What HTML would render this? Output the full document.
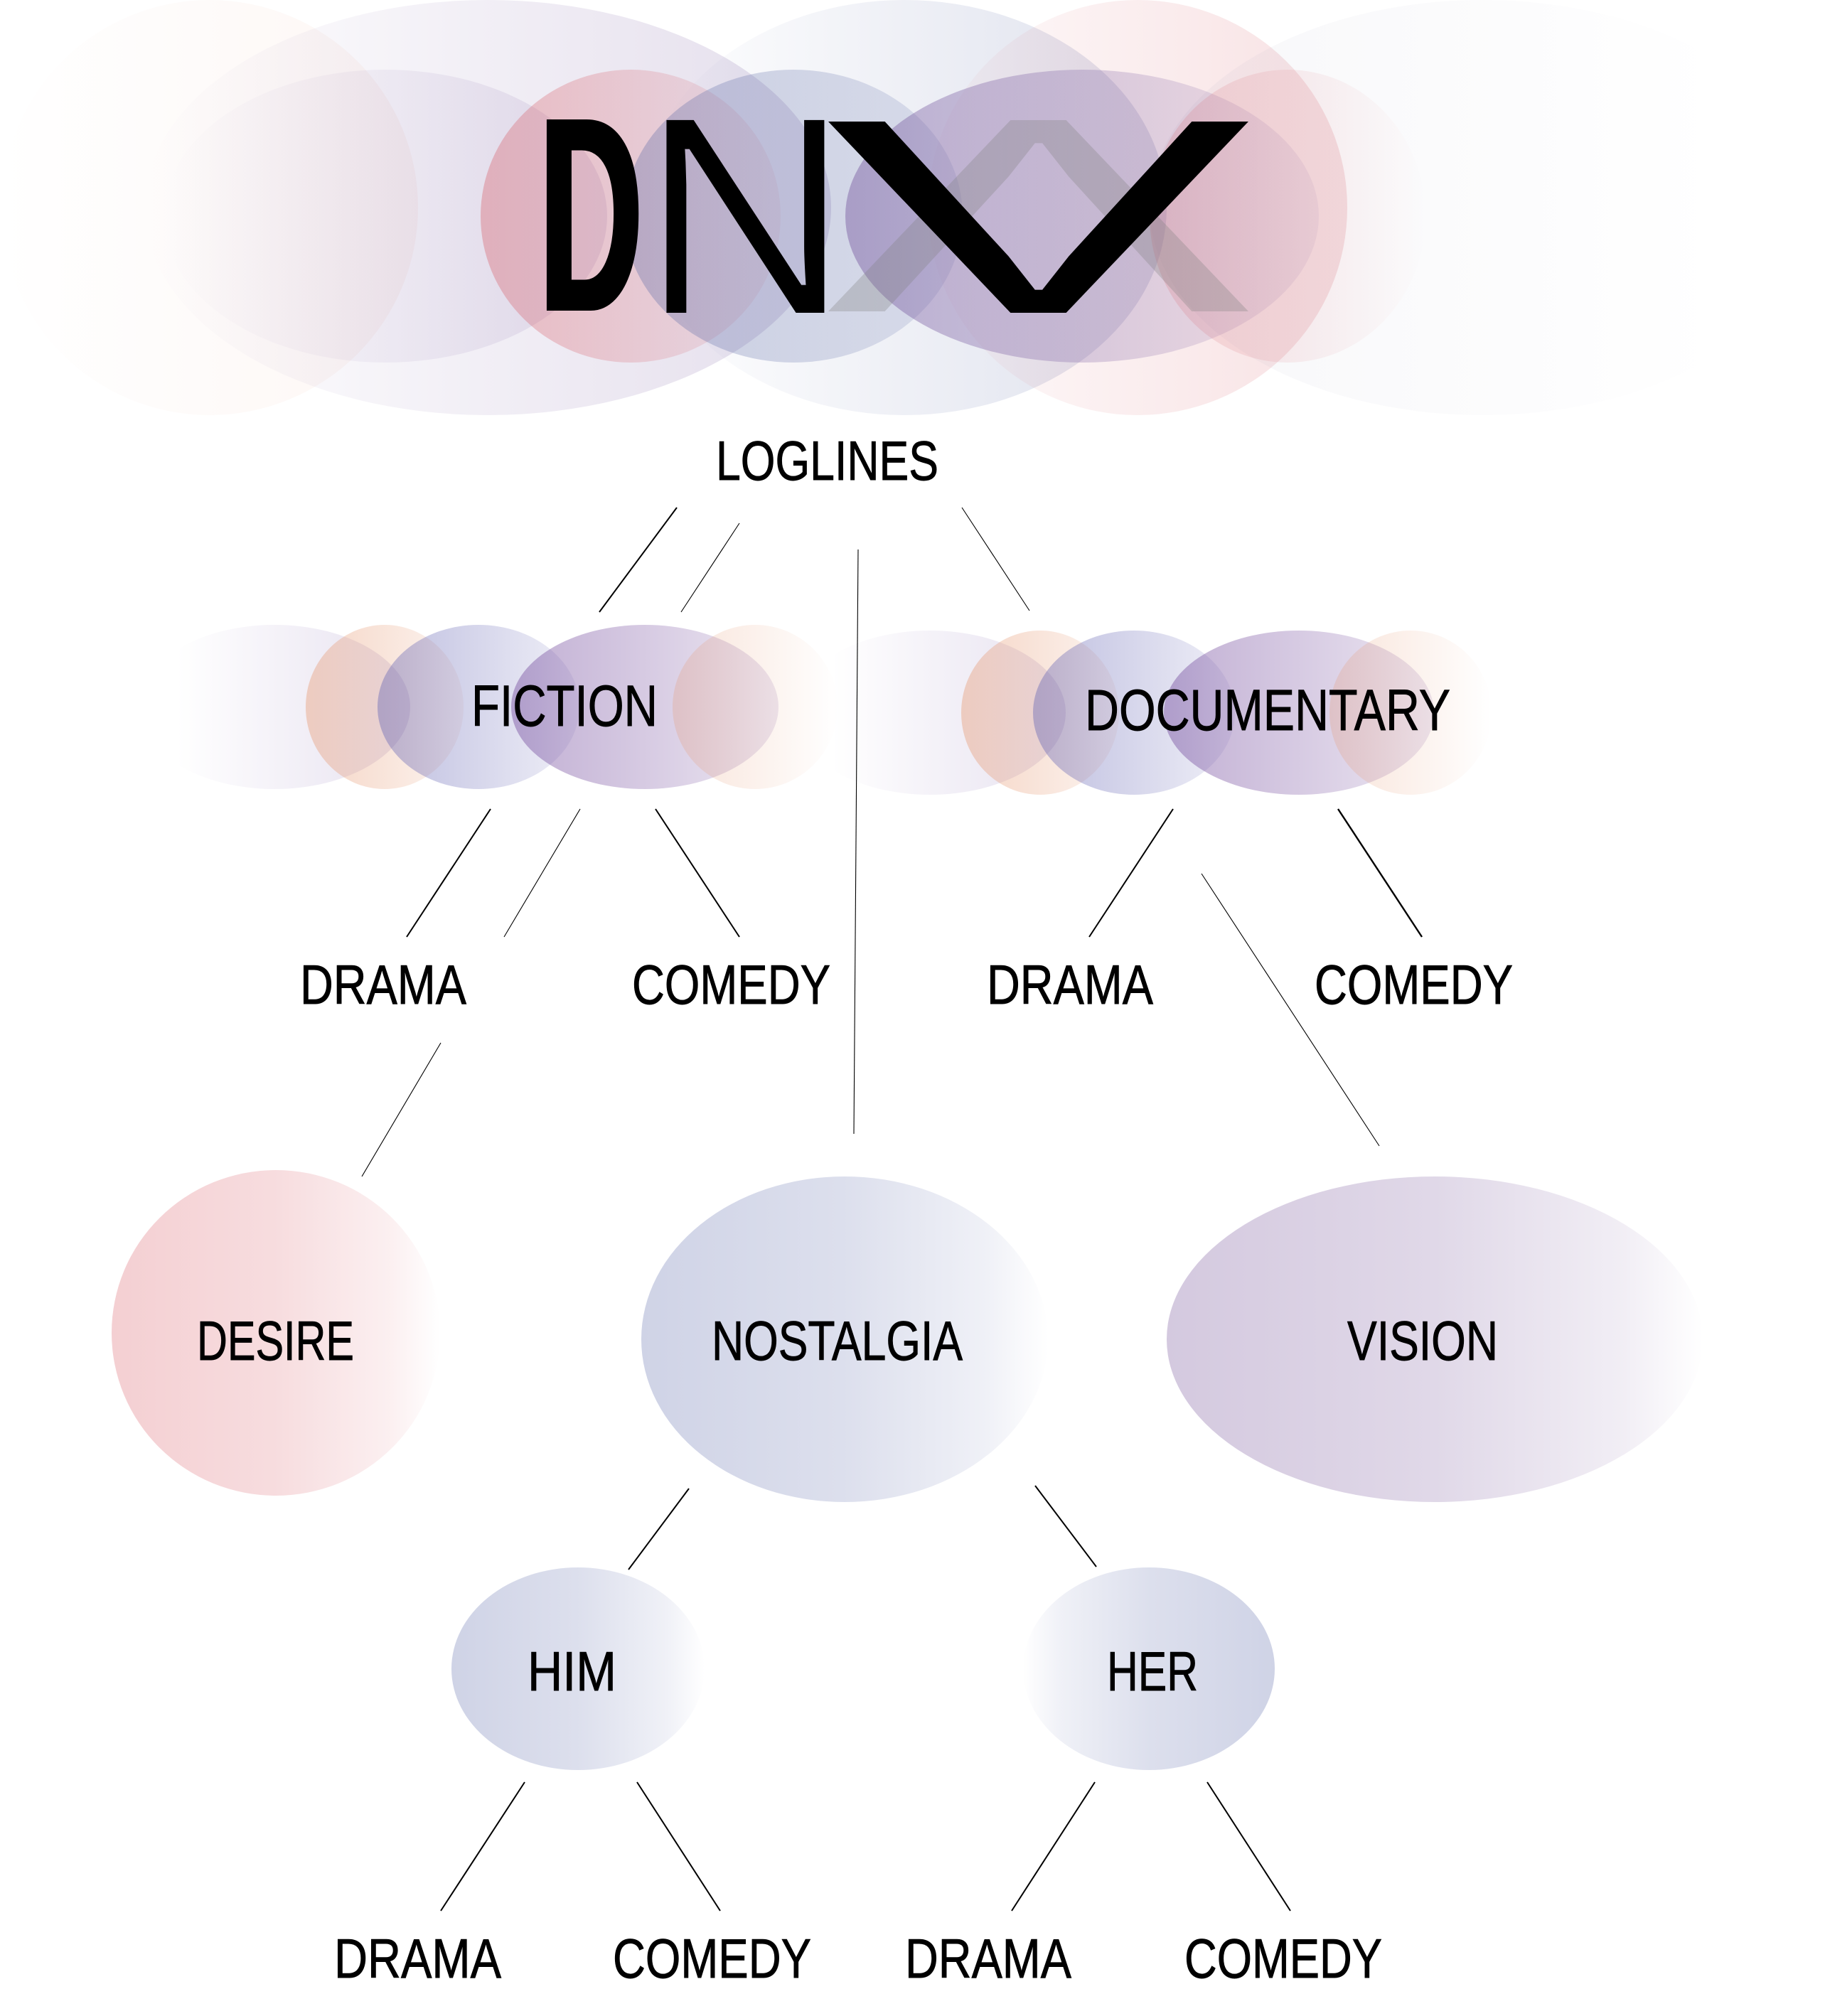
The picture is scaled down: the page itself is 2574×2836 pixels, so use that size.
<!DOCTYPE html>
<html><head><meta charset="utf-8"><title>DNV Loglines</title>
<style>html,body{margin:0;padding:0;background:#fff}svg{display:block}text{font-family:"Liberation Sans",sans-serif;fill:#000}</style></head>
<body>
<svg xmlns="http://www.w3.org/2000/svg" width="2574" height="2836" viewBox="0 0 2574 2836">
<defs>
<filter id="erV" filterUnits="userSpaceOnUse" x="1100" y="120" width="720" height="370" color-interpolation-filters="sRGB"><feMorphology operator="erode" radius="5 0"/></filter>
<filter id="erN" filterUnits="userSpaceOnUse" x="880" y="120" width="320" height="370" color-interpolation-filters="sRGB"><feMorphology operator="erode" radius="3 0"/></filter>
<filter id="diD" filterUnits="userSpaceOnUse" x="730" y="120" width="200" height="370" color-interpolation-filters="sRGB"><feMorphology operator="dilate" radius="3 0"/></filter>
<linearGradient id="e1"><stop offset="0" stop-color="rgb(240,190,170)" stop-opacity="0"/><stop offset="1" stop-color="rgb(240,190,170)" stop-opacity=".13"/></linearGradient>
<linearGradient id="e2"><stop offset="0" stop-color="rgb(120,90,160)" stop-opacity="0"/><stop offset="1" stop-color="rgb(120,90,160)" stop-opacity=".2"/></linearGradient>
<linearGradient id="e3"><stop offset="0" stop-color="rgb(90,105,165)" stop-opacity="0"/><stop offset="1" stop-color="rgb(90,105,165)" stop-opacity=".2"/></linearGradient>
<linearGradient id="e4"><stop offset="0" stop-color="rgb(214,90,100)" stop-opacity=".03"/><stop offset="1" stop-color="rgb(214,90,100)" stop-opacity=".18"/></linearGradient>
<linearGradient id="e5"><stop offset="0" stop-color="rgb(120,120,160)" stop-opacity=".06"/><stop offset=".85" stop-color="rgb(120,120,160)" stop-opacity="0"/></linearGradient>
<linearGradient id="i1"><stop offset="0" stop-color="rgb(120,90,160)" stop-opacity="0"/><stop offset="1" stop-color="rgb(120,90,160)" stop-opacity=".14"/></linearGradient>
<linearGradient id="i2"><stop offset="0" stop-color="rgb(214,90,100)" stop-opacity=".36"/><stop offset="1" stop-color="rgb(214,90,100)" stop-opacity=".08"/></linearGradient>
<linearGradient id="i3"><stop offset="0" stop-color="rgb(90,105,165)" stop-opacity=".34"/><stop offset="1" stop-color="rgb(90,105,165)" stop-opacity=".14"/></linearGradient>
<linearGradient id="i4"><stop offset="0" stop-color="rgb(120,90,160)" stop-opacity=".46"/><stop offset="1" stop-color="rgb(120,90,160)" stop-opacity=".08"/></linearGradient>
<linearGradient id="i5"><stop offset="0" stop-color="rgb(214,90,100)" stop-opacity=".2"/><stop offset="1" stop-color="rgb(214,90,100)" stop-opacity="0"/></linearGradient>
<linearGradient id="f1"><stop offset=".14" stop-color="rgb(120,90,170)" stop-opacity="0"/><stop offset="1" stop-color="rgb(120,90,170)" stop-opacity=".18"/></linearGradient>
<linearGradient id="f2"><stop offset="0" stop-color="rgb(230,150,110)" stop-opacity=".4"/><stop offset="1" stop-color="rgb(230,150,110)" stop-opacity=".1"/></linearGradient>
<linearGradient id="f3"><stop offset="0" stop-color="rgb(100,100,180)" stop-opacity=".42"/><stop offset="1" stop-color="rgb(100,100,180)" stop-opacity=".1"/></linearGradient>
<linearGradient id="f4"><stop offset="0" stop-color="rgb(120,80,160)" stop-opacity=".46"/><stop offset="1" stop-color="rgb(120,80,160)" stop-opacity=".14"/></linearGradient>
<linearGradient id="f5"><stop offset="0" stop-color="rgb(230,150,110)" stop-opacity=".26"/><stop offset="1" stop-color="rgb(230,150,110)" stop-opacity="0"/></linearGradient>
<linearGradient id="n1"><stop offset="0" stop-color="#f4cfd2"/><stop offset=".5" stop-color="#f4cfd2" stop-opacity=".72"/><stop offset=".85" stop-color="#f4cfd2" stop-opacity=".32"/><stop offset="1" stop-color="#f4cfd2" stop-opacity="0"/></linearGradient>
<linearGradient id="n2"><stop offset="0" stop-color="#cfd3e6"/><stop offset=".5" stop-color="#cfd3e6" stop-opacity=".72"/><stop offset=".85" stop-color="#cfd3e6" stop-opacity=".32"/><stop offset="1" stop-color="#cfd3e6" stop-opacity="0"/></linearGradient>
<linearGradient id="n3"><stop offset="0" stop-color="#d4c9df"/><stop offset=".5" stop-color="#d4c9df" stop-opacity=".72"/><stop offset=".85" stop-color="#d4c9df" stop-opacity=".32"/><stop offset="1" stop-color="#d4c9df" stop-opacity="0"/></linearGradient>
<linearGradient id="n4"><stop offset="0" stop-color="#cfd3e6" stop-opacity="0"/><stop offset=".15" stop-color="#cfd3e6" stop-opacity=".32"/><stop offset=".5" stop-color="#cfd3e6" stop-opacity=".72"/><stop offset="1" stop-color="#cfd3e6"/></linearGradient>
</defs>

<ellipse cx="295" cy="292" rx="293" ry="292" fill="url(#e1)"/>
<ellipse cx="686" cy="292" rx="483" ry="292" fill="url(#e2)"/>
<ellipse cx="1272" cy="292" rx="369" ry="292" fill="url(#e3)"/>
<ellipse cx="1600" cy="292" rx="295" ry="292" fill="url(#e4)"/>
<ellipse cx="2085" cy="292" rx="468" ry="292" fill="url(#e5)"/>
<ellipse cx="542" cy="304" rx="312" ry="206" fill="url(#i1)"/>
<ellipse cx="887" cy="304" rx="211" ry="206" fill="url(#i2)"/>
<ellipse cx="1116" cy="304" rx="238" ry="206" fill="url(#i3)"/>
<ellipse cx="1522" cy="304" rx="333" ry="206" fill="url(#i4)"/>
<ellipse cx="1811" cy="304" rx="194" ry="206" fill="url(#i5)"/>

<g filter="url(#diD)"><text font-size="100" font-weight="700" transform="translate(758.5,437) scale(2.01,3.91)">D</text></g>
<g filter="url(#erN)"><text font-size="100" transform="translate(901,440) scale(4.08,3.94)">N</text></g>
<g filter="url(#erV)" opacity=".3"><text font-size="100" transform="translate(1156,169) scale(9.13,-3.91)" style="fill:#808080">V</text></g>
<g filter="url(#erV)"><text font-size="100" transform="translate(1156,440) scale(9.13,3.91)">V</text></g>

<ellipse cx="386" cy="994.5" rx="191" ry="115.5" fill="url(#f1)"/>
<ellipse cx="541" cy="994.5" rx="111" ry="115.5" fill="url(#f2)"/>
<ellipse cx="673" cy="994.5" rx="142" ry="115.5" fill="url(#f3)"/>
<ellipse cx="907" cy="994.5" rx="188" ry="115.5" fill="url(#f4)"/>
<ellipse cx="1062" cy="994.5" rx="116" ry="115.5" fill="url(#f5)"/>

<ellipse cx="1308" cy="1002.5" rx="191" ry="115.5" fill="url(#f1)"/>
<ellipse cx="1463" cy="1002.5" rx="111" ry="115.5" fill="url(#f2)"/>
<ellipse cx="1595" cy="1002.5" rx="142" ry="115.5" fill="url(#f3)"/>
<ellipse cx="1827" cy="1002.5" rx="190" ry="115.5" fill="url(#f4)"/>
<ellipse cx="1984" cy="1002.5" rx="114" ry="115.5" fill="url(#f5)"/>

<ellipse cx="388" cy="1875" rx="231" ry="229" fill="url(#n1)"/>
<ellipse cx="1188" cy="1884" rx="286" ry="229" fill="url(#n2)"/>
<ellipse cx="2018" cy="1884" rx="377" ry="229" fill="url(#n3)"/>
<ellipse cx="813" cy="2347.5" rx="178" ry="142.5" fill="url(#n2)"/>
<ellipse cx="1616" cy="2347.5" rx="177" ry="142.5" fill="url(#n4)"/>

<g stroke="#000" fill="none">
<g stroke-width="2">
<line x1="952" y1="714" x2="843" y2="861"/>
<line x1="690" y1="1138" x2="572" y2="1318"/>
<line x1="922" y1="1138" x2="1040" y2="1318"/>
<line x1="1650" y1="1138" x2="1532" y2="1318"/>
<line x1="1882" y1="1138" x2="2000" y2="1318" stroke-width="2.4"/>
<line x1="969" y1="2094" x2="884" y2="2208"/>
<line x1="1456" y1="2090" x2="1542" y2="2204"/>
<line x1="738" y1="2507" x2="620" y2="2688"/>
<line x1="896" y1="2507" x2="1013" y2="2688"/>
<line x1="1540" y1="2507" x2="1423" y2="2688"/>
<line x1="1698" y1="2507" x2="1815" y2="2688"/>
</g>
<g stroke-width="1.1">
<line x1="1040" y1="736" x2="958" y2="861"/>
<line x1="1207" y1="773" x2="1201" y2="1595"/>
<line x1="1353" y1="714" x2="1448" y2="859"/>
<line x1="816" y1="1138" x2="709" y2="1318"/>
<line x1="620" y1="1467" x2="509" y2="1655"/>
<line x1="1690" y1="1229" x2="1940" y2="1612"/>
</g>
</g>

<g font-size="78" stroke="#000" stroke-width=".9">
<text x="1007" y="675" textLength="313" lengthAdjust="spacingAndGlyphs">LOGLINES</text>
<text x="663" y="1021" font-size="82" textLength="262" lengthAdjust="spacingAndGlyphs">FICTION</text>
<text x="1526" y="1027" font-size="82" textLength="514" lengthAdjust="spacingAndGlyphs">DOCUMENTARY</text>
<text x="422" y="1412" textLength="234" lengthAdjust="spacingAndGlyphs">DRAMA</text>
<text x="889" y="1412" textLength="279" lengthAdjust="spacingAndGlyphs">COMEDY</text>
<text x="1388" y="1412" textLength="234" lengthAdjust="spacingAndGlyphs">DRAMA</text>
<text x="1849" y="1412" textLength="279" lengthAdjust="spacingAndGlyphs">COMEDY</text>
<text x="277" y="1913" textLength="221" lengthAdjust="spacingAndGlyphs">DESIRE</text>
<text x="1001" y="1913" textLength="353" lengthAdjust="spacingAndGlyphs">NOSTALGIA</text>
<text x="1895" y="1913" textLength="212" lengthAdjust="spacingAndGlyphs">VISION</text>
<text x="742" y="2378" textLength="125" lengthAdjust="spacingAndGlyphs">HIM</text>
<text x="1557" y="2378" textLength="128" lengthAdjust="spacingAndGlyphs">HER</text>
<text x="470" y="2782" textLength="235" lengthAdjust="spacingAndGlyphs">DRAMA</text>
<text x="862" y="2782" textLength="279" lengthAdjust="spacingAndGlyphs">COMEDY</text>
<text x="1273" y="2782" textLength="234" lengthAdjust="spacingAndGlyphs">DRAMA</text>
<text x="1666" y="2782" textLength="278" lengthAdjust="spacingAndGlyphs">COMEDY</text>
</g>
</svg>
</body></html>
